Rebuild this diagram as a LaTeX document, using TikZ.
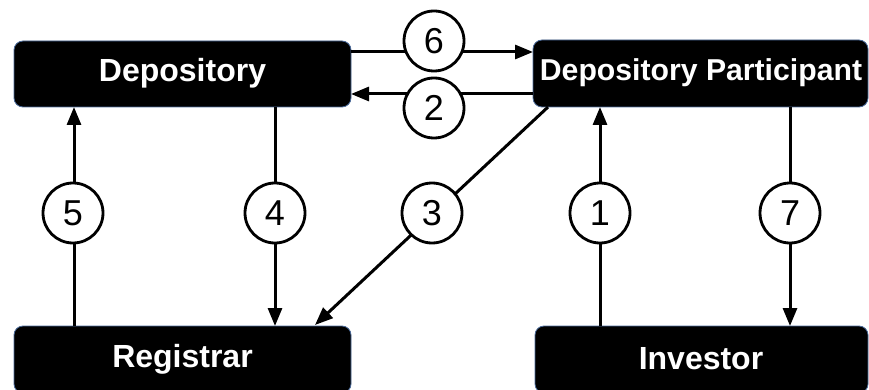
\documentclass[tikz,border=0pt]{standalone}
\usepackage{fontspec}
\setmainfont{Liberation Sans}
\usetikzlibrary{arrows.meta}
\definecolor{boxedge}{HTML}{4A6A9A}
\tikzset{
  entity/.style={fill=black, draw=boxedge, line width=0.8pt, rounded corners=9pt},
  entitytext/.style={text=white, font=\fontsize{32}{36}\selectfont\bfseries, inner sep=0pt},
  flow/.style={line width=3pt, -{Triangle[length=18pt, width=14pt]}},
  stepnum/.style={circle, draw=black, line width=2.8pt, fill=white, minimum size=60pt, inner sep=0pt, font=\fontsize{36}{40}\selectfont}
}
\begin{document}
\begin{tikzpicture}[x=1pt, y=-1pt]
\useasboundingbox (0,0) rectangle (869,390);
\clip (0,0) rectangle (869,390);
% entity boxes
\path[entity] (14,41) rectangle (351,107);
\path[entity] (533,40) rectangle (868,107);
\path[entity] (14,326) rectangle (351,393);
\path[entity] (535,326) rectangle (868,393);
\node[entitytext] (dep) at (182.5,73) {Depository};
\node[entitytext, font=\fontsize{30.2}{36}\selectfont\bfseries] (dp) at (701,73) {Depository Participant};
\node[entitytext] (reg) at (182.5,359) {Registrar};
\node[entitytext] (inv) at (701,359) {Investor};
% anchor points on box edges
\coordinate (depR6) at (351,52);
\coordinate (dpL6) at (533,52);
\coordinate (dpL2) at (533,94);
\coordinate (depR2) at (351,94);
\coordinate (depB5) at (74,107);
\coordinate (regT5) at (74,326);
\coordinate (depB4) at (275,107);
\coordinate (regT4) at (275,326);
\coordinate (dpB3) at (548,107);
\coordinate (regT3) at (315,325);
\coordinate (invT1) at (600,326);
\coordinate (dpB1) at (600,107);
\coordinate (dpB7) at (790,107);
\coordinate (invT7) at (790,326);
% connectors
\draw[flow] (depR6) -- (dpL6);
\draw[flow] (dpL2) -- (depR2);
\draw[flow] (regT5) -- (depB5);
\draw[flow] (depB4) -- (regT4);
\draw[flow] (dpB3) -- (regT3);
\draw[flow] (invT1) -- (dpB1);
\draw[flow] (dpB7) -- (invT7);
% step numbers
\node[stepnum] (n6) at (434,41) {6};
\node[stepnum] (n2) at (434,108) {2};
\node[stepnum] (n5) at (73,213) {5};
\node[stepnum] (n4) at (275,213) {4};
\node[stepnum] (n3) at (432,213) {3};
\node[stepnum] (n1) at (600,213) {1};
\node[stepnum] (n7) at (790,213) {7};
\end{tikzpicture}
\end{document}
